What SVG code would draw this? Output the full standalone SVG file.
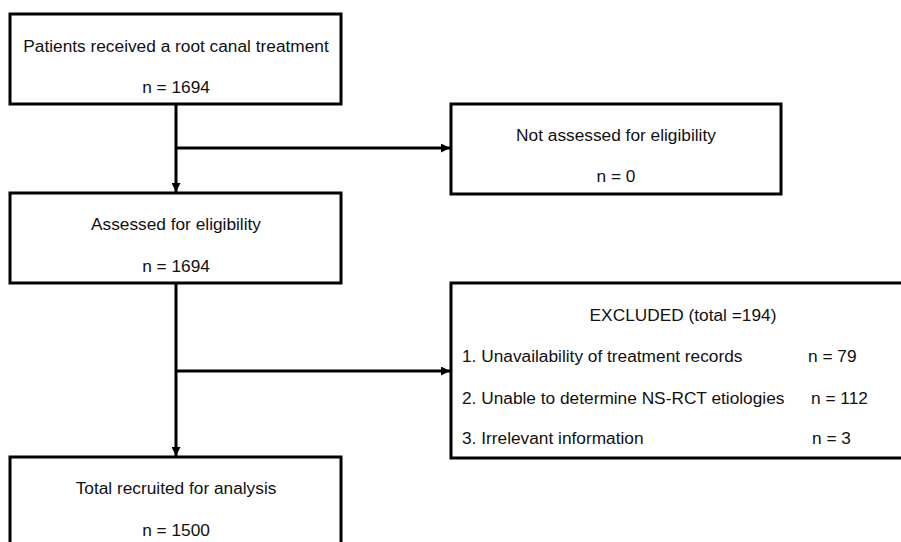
<svg xmlns="http://www.w3.org/2000/svg" width="901" height="542" viewBox="0 0 901 542">
<style>
.box{fill:#fff;stroke:#000;stroke-width:3}
.t{font-family:"Liberation Sans",Arial,sans-serif;font-size:17.3px;fill:#111}
.c{text-anchor:middle}
.line{fill:none;stroke:#000;stroke-width:3}
</style>
<defs>
<marker id="arr" viewBox="0 0 10 10" refX="10" refY="5" markerWidth="9" markerHeight="9" markerUnits="userSpaceOnUse" orient="auto">
<path d="M0,0 L10,5 L0,10 Z" fill="#000"/>
</marker>
</defs>
<rect width="901" height="542" fill="#fff"/>
<g id="connectors">
<line class="line" x1="176" y1="104" x2="176" y2="192" marker-end="url(#arr)"/>
<line class="line" x1="176" y1="148" x2="450" y2="148" marker-end="url(#arr)"/>
<line class="line" x1="176" y1="283" x2="176" y2="456" marker-end="url(#arr)"/>
<line class="line" x1="176" y1="371" x2="450" y2="371" marker-end="url(#arr)"/>
</g>
<g id="n1">
<rect class="box" x="10" y="14" width="331" height="90"/>
<text class="t c" x="176" y="52">Patients received a root canal treatment</text>
<text class="t c" x="176" y="93">n = 1694</text>
</g>
<g id="n2">
<rect class="box" x="451" y="104" width="330" height="90"/>
<text class="t c" x="616" y="141">Not assessed for eligibility</text>
<text class="t c" x="616" y="182">n = 0</text>
</g>
<g id="n3">
<rect class="box" x="10" y="193" width="331" height="90"/>
<text class="t c" x="176" y="230">Assessed for eligibility</text>
<text class="t c" x="176" y="272">n = 1694</text>
</g>
<g id="n4">
<rect class="box" x="451" y="283" width="470" height="175"/>
<text class="t c" x="683" y="321">EXCLUDED (total =194)</text>
<text class="t" x="462" y="362">1. Unavailability of treatment records</text>
<text class="t" x="808" y="362">n = 79</text>
<text class="t" x="462" y="404">2. Unable to determine NS-RCT etiologies</text>
<text class="t" x="811" y="404">n = 112</text>
<text class="t" x="462" y="444">3. Irrelevant information</text>
<text class="t" x="812" y="444">n = 3</text>
</g>
<g id="n5">
<rect class="box" x="10" y="457" width="331" height="100"/>
<text class="t c" x="176" y="494">Total recruited for analysis</text>
<text class="t c" x="176" y="536">n = 1500</text>
</g>
</svg>
